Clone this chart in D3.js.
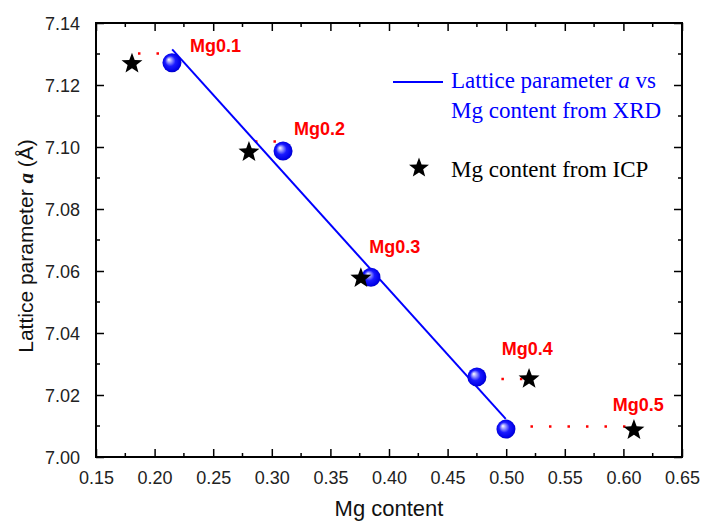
<!DOCTYPE html>
<html><head><meta charset="utf-8">
<script src="https://cdn.jsdelivr.net/npm/d3@7"></script>
<style>body{margin:0;background:#fff}svg{display:block}</style>
</head><body>
<svg id="c" width="702" height="522"></svg>
<script>
// ---- data ----
const sampleNames = ["Mg0.1", "Mg0.2", "Mg0.3", "Mg0.4", "Mg0.5"];
const xrdX = [0.2148, 0.3096, 0.3846, 0.475, 0.4998];
const xrdY = [7.1272, 7.0987, 7.058, 7.0258, 7.009];
const icpX = [0.1807, 0.2805, 0.376, 0.5195, 0.609];
const icpY = [7.1272, 7.0987, 7.058, 7.0255, 7.009];
const guideY = [7.1302, 7.1018, 7.058, 7.0252, 7.0098];
const fitX = [0.215, 0.4996];
const fitY = [7.1315, 7.0123];
const labelX = [0.2302, 0.3189, 0.3832, 0.4962, 0.5909];
const labelY = [7.1306, 7.1039, 7.0658, 7.0329, 7.0149];
const xTicks = [0.15,0.20,0.25,0.30,0.35,0.40,0.45,0.50,0.55,0.60,0.65];
const yTicks = [7.00,7.02,7.04,7.06,7.08,7.10,7.12,7.14];

const svg = d3.select("#c");
const L = 96, R = 682, T = 23, B = 457;
const x = d3.scaleLinear().domain([0.15, 0.65]).range([L, R]);
const y = d3.scaleLinear().domain([7.00, 7.14]).range([B, T]);

const defs = svg.append("defs");
const g = defs.append("radialGradient").attr("id","sph").attr("cx","0.5").attr("cy","0.5").attr("r","0.55").attr("fx","0.33").attr("fy","0.33");
g.append("stop").attr("offset","0").attr("stop-color","#ffffff");
g.append("stop").attr("offset","0.22").attr("stop-color","#9a9aff");
g.append("stop").attr("offset","0.5").attr("stop-color","#1a1aff");
g.append("stop").attr("offset","0.85").attr("stop-color","#0000e6");
g.append("stop").attr("offset","1").attr("stop-color","#0000a0");

// axes (ticks inward, all four sides)
const minorX = d3.range(0.175, 0.65, 0.05);
const minorY = d3.range(7.01, 7.14, 0.02);
const ax = d3.axisBottom(x).tickValues(xTicks).tickFormat(d3.format(".2f")).tickSizeInner(-8).tickSizeOuter(0).tickPadding(14);
const ay = d3.axisLeft(y).tickValues(yTicks).tickFormat(d3.format(".2f")).tickSizeInner(-8).tickSizeOuter(0).tickPadding(16);
function styleAxis(s){
  s.select(".domain").remove();
  s.selectAll(".tick line").attr("stroke","#000").attr("stroke-width",1.5);
  s.selectAll(".tick text").attr("font-family","Liberation Sans, Arial, sans-serif").attr("font-size",18).attr("fill","#222");
}
const gx = svg.append("g").attr("transform",`translate(0,${B})`).call(ax); styleAxis(gx);
const gy = svg.append("g").attr("transform",`translate(${L},0)`).call(ay); styleAxis(gy);
gy.selectAll(".tick text").attr("dy","0.36em");
const gxt = svg.append("g").attr("transform",`translate(0,${T})`).call(d3.axisTop(x).tickValues(xTicks).tickFormat("").tickSizeInner(-8).tickSizeOuter(0)); styleAxis(gxt);
const gyr = svg.append("g").attr("transform",`translate(${R},0)`).call(d3.axisRight(y).tickValues(yTicks).tickFormat("").tickSizeInner(-8).tickSizeOuter(0)); styleAxis(gyr);
// minor ticks
const minor = svg.append("g").attr("stroke","#000").attr("stroke-width",1.5);
minorX.forEach(v=>{
  minor.append("line").attr("x1",x(v)).attr("x2",x(v)).attr("y1",B).attr("y2",B-4);
  minor.append("line").attr("x1",x(v)).attr("x2",x(v)).attr("y1",T).attr("y2",T+4);
});
minorY.forEach(v=>{
  minor.append("line").attr("y1",y(v)).attr("y2",y(v)).attr("x1",L).attr("x2",L+4);
  minor.append("line").attr("y1",y(v)).attr("y2",y(v)).attr("x1",R).attr("x2",R-4);
});
svg.append("rect").attr("x",L).attr("y",T).attr("width",R-L).attr("height",B-T).attr("fill","none").attr("stroke","#000").attr("stroke-width",2);

// red dotted guides
sampleNames.forEach((n,i)=>{
  const a = Math.min(xrdX[i], icpX[i]), b = Math.max(xrdX[i], icpX[i]);
  svg.append("line").attr("x1",x(a)).attr("x2",x(b)).attr("y1",y(guideY[i])).attr("y2",y(guideY[i]))
    .attr("stroke","#ff0000").attr("stroke-width",2.5).attr("stroke-dasharray","2.5,16").attr("stroke-dashoffset",-6);
});

// fit line
svg.append("path").attr("d", d3.line()(fitX.map((v,i)=>[x(v), y(fitY[i])])))
  .attr("stroke","#0000ff").attr("stroke-width",2).attr("fill","none");

// spheres
svg.selectAll("circle.sph").data(xrdX).enter().append("circle").attr("class","sph")
  .attr("cx",(d)=>x(d)).attr("cy",(d,i)=>y(xrdY[i])).attr("r",9.5).attr("fill","url(#sph)");

// stars
function starPath(cx, cy, ro){
  const ri = ro*0.42; let p = [];
  for(let k=0;k<10;k++){
    const r = k%2===0 ? ro : ri;
    const a = -Math.PI/2 + k*Math.PI/5;
    p.push([cx + r*Math.cos(a), cy + r*Math.sin(a)]);
  }
  return "M" + p.map(q=>q.join(",")).join("L") + "Z";
}
svg.selectAll("path.star").data(icpX).enter().append("path").attr("class","star")
  .attr("d",(d,i)=>starPath(x(d), y(icpY[i])+1, 11)).attr("fill","#000");

// labels
svg.selectAll("text.lab").data(sampleNames).enter().append("text").attr("class","lab")
  .attr("x",(d,i)=>x(labelX[i])).attr("y",(d,i)=>y(labelY[i]))
  .attr("font-family","Liberation Sans, Arial, sans-serif").attr("font-weight","bold").attr("font-size",18)
  .attr("fill","#ff0000").text(d=>d);

// legend
const serif = "Liberation Serif, Times New Roman, serif";
svg.append("line").attr("x1",393).attr("x2",443).attr("y1",82).attr("y2",82).attr("stroke","#0000ff").attr("stroke-width",2);
const t1 = svg.append("text").attr("x",451).attr("y",88).attr("font-family",serif).attr("font-size",23).attr("fill","#0000ff");
t1.append("tspan").text("Lattice parameter ");
t1.append("tspan").attr("font-style","italic").text("a");
t1.append("tspan").text(" vs");
svg.append("text").attr("x",451).attr("y",118).attr("font-family",serif).attr("font-size",23).attr("fill","#0000ff").text("Mg content from XRD");
svg.append("path").attr("d", starPath(419, 168, 10.5)).attr("fill","#000");
svg.append("text").attr("x",451).attr("y",177).attr("font-family",serif).attr("font-size",23).attr("fill","#000").text("Mg content from ICP");

// axis titles
svg.append("text").attr("x",(L+R)/2).attr("y",516).attr("text-anchor","middle")
  .attr("font-family","Liberation Sans, Arial, sans-serif").attr("font-size",22).attr("fill","#111").text("Mg content");
const yt = svg.append("text").attr("transform","translate(33,246) rotate(-90)").attr("text-anchor","middle")
  .attr("font-family","Liberation Sans, Arial, sans-serif").attr("font-size",21).attr("fill","#111");
yt.append("tspan").text("Lattice parameter ");
yt.append("tspan").attr("font-family",serif).attr("font-style","italic").attr("font-weight","bold").text("a");
yt.append("tspan").text(" (Å)");
</script>
</body></html>
